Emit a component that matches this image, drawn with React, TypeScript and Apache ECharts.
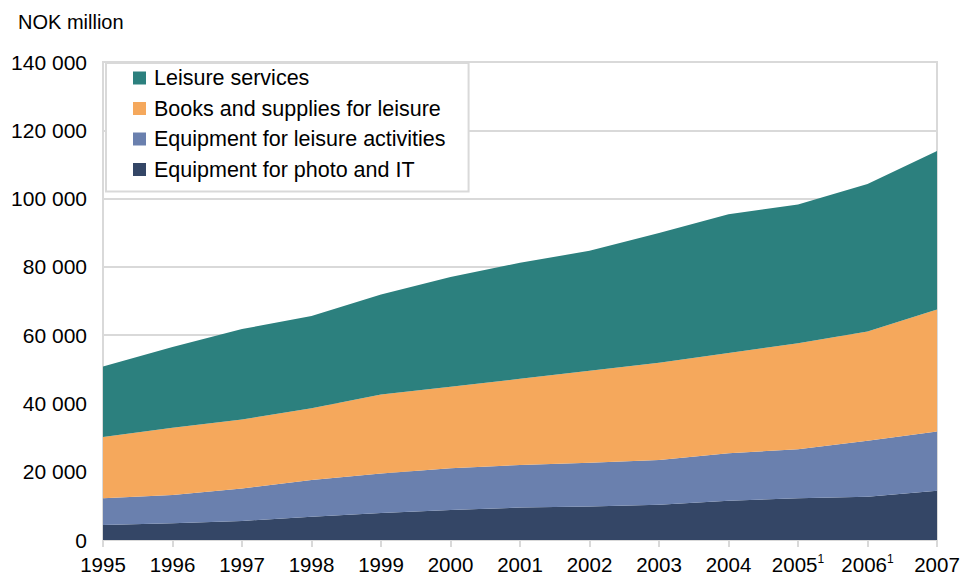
import React, { useEffect, useRef } from "react";
import * as echarts from "echarts";

const years = ["1995", "1996", "1997", "1998", "1999", "2000", "2001", "2002", "2003", "2004", "2005", "2006", "2007"];
const footnoteYears = ["2005", "2006"];
const yTicks = [0, 20000, 40000, 60000, 80000, 100000, 120000, 140000];

const photoIT = [4400, 4900, 5600, 6800, 7900, 8800, 9500, 9800, 10300, 11500, 12200, 12700, 14400];
const leisureEquipment = [7800, 8300, 9500, 10800, 11600, 12200, 12500, 12800, 13100, 13900, 14400, 16400, 17400];
const booksSupplies = [18000, 19700, 20200, 21000, 23100, 23900, 25200, 27000, 28500, 29400, 31000, 32000, 35700];
const leisureServices = [20600, 23600, 26500, 27000, 29300, 32100, 34000, 35100, 38000, 40600, 40700, 43200, 46400];

const seriesNames = [
  "Equipment for photo and IT",
  "Equipment for leisure activities",
  "Books and supplies for leisure",
  "Leisure services",
];
const seriesColors = ["#344666", "#6a80ae", "#f5a85c", "#2c807e"];
const seriesData = [photoIT, leisureEquipment, booksSupplies, leisureServices];

const FONT = "'Liberation Sans', Arial, sans-serif";

export default function App() {
  const ref = useRef<HTMLDivElement>(null);

  useEffect(() => {
    if (!ref.current) return;
    const chart = echarts.init(ref.current, null, { renderer: "svg" });
    chart.setOption({
      animation: false,
      backgroundColor: "#ffffff",
      textStyle: { fontFamily: FONT },
      title: {
        text: "NOK million",
        left: 18,
        top: 12,
        padding: 0,
        textStyle: { fontFamily: FONT, fontSize: 20, fontWeight: "normal", color: "#000" },
      },
      legend: {
        orient: "vertical",
        left: 106,
        top: 63,
        data: [...seriesNames].reverse(),
        icon: "rect",
        itemWidth: 13,
        itemHeight: 13,
        itemGap: 6.5,
        padding: [3, 23, 10, 27],
        backgroundColor: "#ffffff",
        borderColor: "#d9d9d9",
        borderWidth: 2,
        borderRadius: 0,
        textStyle: {
          fontFamily: FONT,
          fontSize: 21.5,
          lineHeight: 24,
          color: "#000",
          padding: [0, 0, 0, 3],
        },
      },
      grid: {
        left: 103,
        right: 36,
        top: 62,
        bottom: 35,
        show: true,
        borderColor: "#d9d9d9",
        borderWidth: 2,
        backgroundColor: "transparent",
      },
      xAxis: {
        type: "category",
        data: years,
        boundaryGap: false,
        axisLine: { show: true, lineStyle: { color: "#d9d9d9", width: 2 } },
        axisTick: { show: true, length: 7, interval: 0, lineStyle: { color: "#d9d9d9", width: 2 } },
        axisLabel: {
          interval: 0,
          margin: 13,
          color: "#000",
          fontFamily: FONT,
          fontSize: 20,
          formatter: (v: string) => (footnoteYears.includes(v) ? `{n|${v}}{sup|1}` : `{n|${v}}`),
          rich: {
            n: { fontFamily: FONT, fontSize: 20.5, color: "#000", lineHeight: 22 },
            sup: { fontFamily: FONT, fontSize: 12, color: "#000", lineHeight: 22, verticalAlign: "top", padding: [0, 0, 10, 0] },
          },
        },
        splitLine: { show: false },
      },
      yAxis: {
        type: "value",
        min: yTicks[0],
        max: yTicks[yTicks.length - 1],
        interval: yTicks[1] - yTicks[0],
        axisLine: { show: false },
        axisTick: { show: false },
        axisLabel: {
          margin: 16,
          color: "#000",
          fontFamily: FONT,
          fontSize: 21,
          formatter: (v: number) => String(v).replace(/\B(?=(\d{3})+(?!\d))/g, " "),
        },
        splitLine: { show: true, lineStyle: { color: "#d9d9d9", width: 2 } },
      },
      series: seriesNames.map((name, i) => ({
        name,
        type: "line",
        stack: "total",
        data: seriesData[i],
        symbol: "none",
        showSymbol: false,
        smooth: false,
        lineStyle: { width: 0, color: seriesColors[i] },
        itemStyle: { color: seriesColors[i] },
        areaStyle: { color: seriesColors[i], opacity: 1 },
        z: 2,
      })),
    });
    return () => chart.dispose();
  }, []);

  return <div ref={ref} style={{ position: "absolute", left: 0, top: 0, width: 973, height: 575 }} />;
}
